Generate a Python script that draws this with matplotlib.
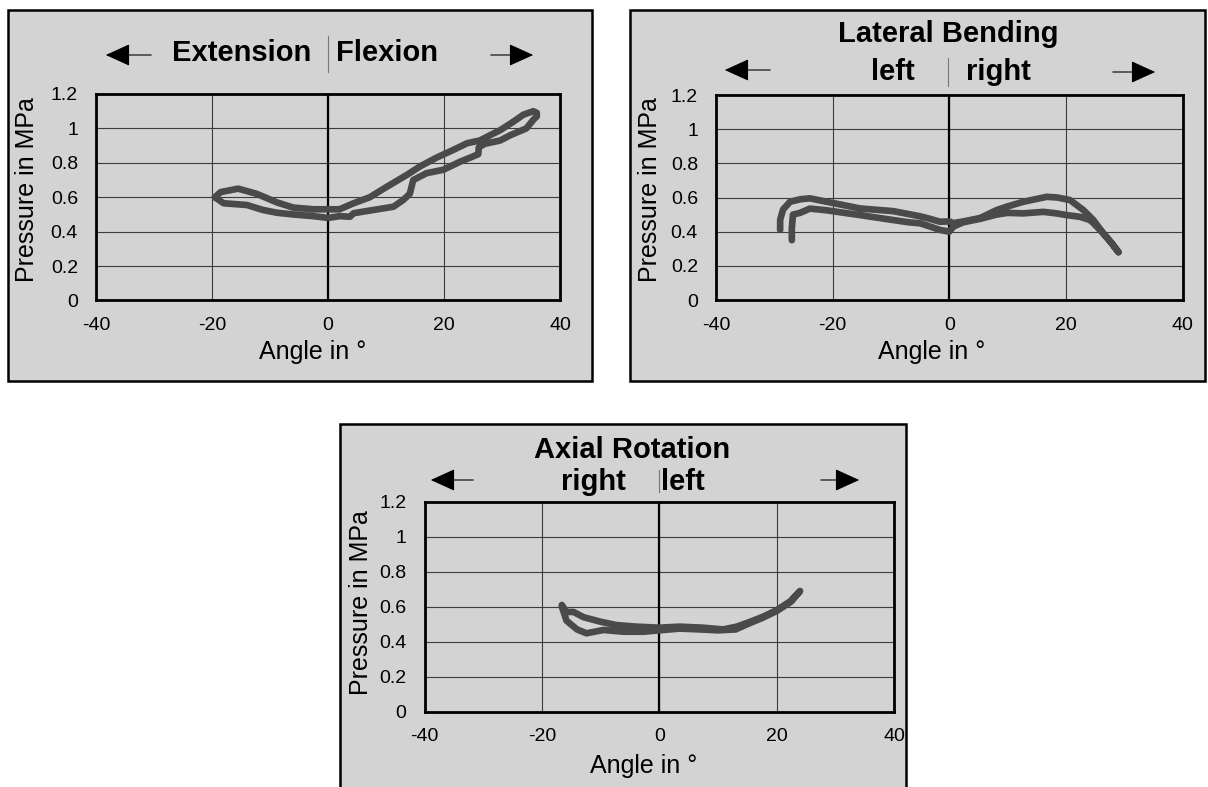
import matplotlib
matplotlib.use('Agg')
import matplotlib.pyplot as plt
from matplotlib.patches import Rectangle, FancyArrowPatch
from matplotlib.lines import Line2D

plt.rcParams['font.family'] = ['Liberation Sans', 'DejaVu Sans']
plt.rcParams['axes.unicode_minus'] = False

# ---------------- data ----------------
x_ticks = [-40, -20, 0, 20, 40]
y_ticks = [0, 0.2, 0.4, 0.6, 0.8, 1.0, 1.2]
y_tick_labels = ['0', '0.2', '0.4', '0.6', '0.8', '1', '1.2']

# Extension / Flexion
flex_angle = [-19.5, -18.5, -15.5, -12.3, -8.8, -6.0, -2.5, 0.0, 2.0, 4.4, 7.2, 10.1,
              13.6, 15.9, 18.7, 21.6, 24.0, 26.2, 28.5, 29.7, 32.0, 33.7, 35.4, 36.0,
              36.0, 35.4, 34.2, 31.4, 29.7, 27.0, 26.0, 25.9, 24.5, 22.8, 19.9, 17.0,
              14.7, 14.1, 13.0, 11.3, 7.8, 4.4, 3.8, 2.0, 0.0, -2.5, -6.0, -8.8,
              -11.2, -14.0, -18.0, -19.5]
flex_pressure = [0.60, 0.63, 0.65, 0.62, 0.57, 0.54, 0.53, 0.53, 0.53, 0.565, 0.60, 0.66,
                 0.73, 0.78, 0.83, 0.875, 0.914, 0.93, 0.97, 0.99, 1.04, 1.08, 1.10, 1.09,
                 1.07, 1.05, 1.00, 0.96, 0.93, 0.91, 0.89, 0.85, 0.83, 0.807, 0.76, 0.74,
                 0.70, 0.62, 0.585, 0.545, 0.526, 0.507, 0.487, 0.49, 0.48, 0.49, 0.50, 0.51,
                 0.526, 0.555, 0.565, 0.60]

# Lateral bending
lat_angle = [-27.0, -27.0, -26.8, -25.6, -23.9, -21.0, -18.0, -15.3, -12.0, -9.6, -7.0,
             -5.0, -3.3, -1.6, 0.0, 0.7, 2.4, 5.3, 8.1, 10.0, 12.7, 16.1, 18.4, 20.1,
             22.4, 24.1, 24.7, 26.4, 27.9, 29.0,
             27.9, 26.4, 24.7, 23.0, 20.7, 18.5, 16.7, 12.7, 9.8, 8.1, 5.3, 2.4, 0.7,
             0.0, -1.6, -3.3, -5.0, -9.6, -15.3, -21.0, -23.9, -25.5, -27.3, -28.5,
             -29.0, -29.0]
lat_pressure = [0.35, 0.42, 0.50, 0.51, 0.535, 0.525, 0.51, 0.497, 0.48, 0.468, 0.455,
                0.449, 0.43, 0.41, 0.40, 0.43, 0.455, 0.475, 0.50, 0.51, 0.507, 0.516,
                0.507, 0.497, 0.487, 0.468, 0.45, 0.39, 0.33, 0.28,
                0.33, 0.39, 0.468, 0.526, 0.585, 0.60, 0.604, 0.575, 0.546, 0.526,
                0.48, 0.46, 0.45, 0.46, 0.458, 0.475, 0.49, 0.52, 0.536, 0.575, 0.595,
                0.59, 0.575, 0.53, 0.47, 0.41]

# Axial rotation
rot_angle = [-16.6, -15.8, -14.6, -12.9, -10.1, -7.3, -3.9, 0.0, 3.5, 7.5, 10.9, 13.2,
             15.5, 17.7, 20.0, 22.3, 24.0,
             22.5, 20.0, 17.5, 15.0, 13.0, 10.0, 7.0, 3.5, 0.0, -2.7, -6.1, -9.5,
             -12.4, -14.0, -15.8, -16.6]
rot_pressure = [0.61, 0.57, 0.57, 0.54, 0.515, 0.495, 0.486, 0.48, 0.486, 0.48, 0.47,
                0.486, 0.514, 0.543, 0.58, 0.63, 0.69,
                0.63, 0.575, 0.535, 0.50, 0.47, 0.465, 0.47, 0.475, 0.465, 0.457,
                0.457, 0.467, 0.448, 0.47, 0.52, 0.60]

# ---------------- layout ----------------
W, H = 1208, 787
fig = plt.figure(figsize=(W / 100, H / 100), dpi=100)
fig.patch.set_facecolor('white')

def fx(p):
    return p / W

def fy(p):
    return 1 - p / H

BG = '#d3d3d3'
LINE = '#4a4a4a'

panels = [
    dict(box=(8, 10, 592, 381), ax=(96, 94, 560, 300.5),
         x=flex_angle, y=flex_pressure, xlab=(313, 352), ylab=(27, 190),
         titles=[('Extension', 311, 53, 'right'), ('Flexion', 336, 53, 'left')],
         sep=(328, 36, 72), larrow=(154, 103, 55), rarrow=(488, 536, 55)),
    dict(box=(630, 10, 1205, 381), ax=(716, 95, 1182.6, 300),
         x=lat_angle, y=lat_pressure, xlab=(932, 352), ylab=(650, 190),
         titles=[('Lateral Bending', 948, 34, 'center'), ('left', 915, 72, 'right'),
                 ('right', 966, 72, 'left')],
         sep=(948, 58, 86), larrow=(773, 722, 70), rarrow=(1110, 1158, 72)),
    dict(box=(340, 424, 906, 790), ax=(424.5, 501.7, 894, 711.7),
         x=rot_angle, y=rot_pressure, xlab=(644, 766), ylab=(361, 603),
         titles=[('Axial Rotation', 632, 450, 'center'), ('right', 626, 482, 'right'),
                 ('left', 661, 482, 'left')],
         sep=(659, 470, 492), larrow=(476, 428, 480), rarrow=(818, 862, 480)),
]

for p in panels:
    l, t, r, b = p['box']
    fig.add_artist(Rectangle((fx(l), fy(b)), fx(r) - fx(l), fy(t) - fy(b),
                             transform=fig.transFigure, facecolor=BG,
                             edgecolor='black', lw=1.8, zorder=0))
    al, at, ar, ab = p['ax']
    ax = fig.add_axes([fx(al), fy(ab), fx(ar) - fx(al), fy(at) - fy(ab)])
    ax.set_facecolor(BG)
    ax.set_xlim(-40, 40)
    ax.set_ylim(0, 1.2)
    ax.set_xticks(x_ticks)
    ax.set_yticks(y_ticks)
    ax.set_yticklabels(y_tick_labels)
    ax.grid(True, color='#3c3c3c', lw=0.8)
    ax.set_axisbelow(True)
    ax.axvline(0, color='black', lw=1.6, zorder=1.5)
    ax.tick_params(length=0, labelsize=14, pad=12)
    ax.tick_params(axis='y', pad=13)
    for s in ax.spines.values():
        s.set_linewidth(2.0)
        s.set_color('black')
    ax.plot(p['x'], p['y'], color=LINE, lw=4.8, solid_joinstyle='round',
            solid_capstyle='round', zorder=3)

    fig.text(fx(p['xlab'][0]), fy(p['xlab'][1]), 'Angle in °', fontsize=18,
             ha='center', va='center')
    fig.text(fx(p['ylab'][0]), fy(p['ylab'][1]), 'Pressure in MPa', fontsize=18,
             ha='center', va='center', rotation=90)
    for txt, tx, ty, ha in p['titles']:
        fig.text(fx(tx), fy(ty), txt, fontsize=21, fontweight='bold', ha=ha,
                 va='center')
    sx, sy0, sy1 = p['sep']
    fig.add_artist(Line2D([fx(sx), fx(sx)], [fy(sy0), fy(sy1)],
                          transform=fig.transFigure, color='#777777', lw=0.8))
    for (x0, x1, yy) in (p['larrow'], p['rarrow']):
        fig.add_artist(FancyArrowPatch((fx(x0), fy(yy)), (fx(x1), fy(yy)),
                                       transform=fig.transFigure,
                                       arrowstyle='-|>,head_length=1.1,head_width=0.5',
                                       mutation_scale=14, color='black', lw=0.8))

fig.savefig('out.png', dpi=100, facecolor='white')
